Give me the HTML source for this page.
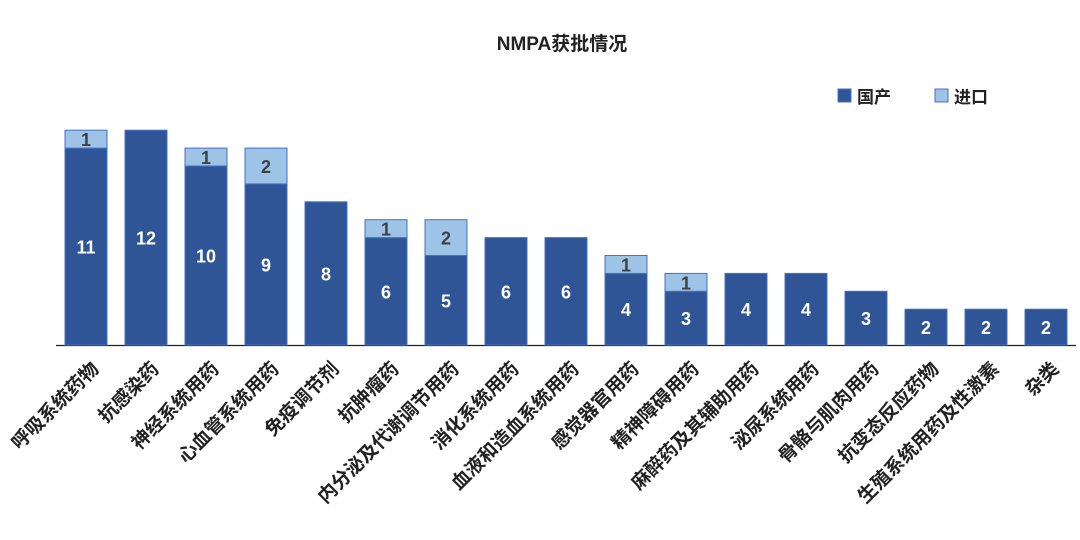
<!DOCTYPE html>
<html><head><meta charset="utf-8">
<style>
body{margin:0;background:#fff;width:1080px;height:535px;overflow:hidden;font-family:"Liberation Sans","Noto Sans CJK SC",sans-serif;}
</style></head>
<body>
<svg id="chart" width="1080" height="535" xmlns="http://www.w3.org/2000/svg" font-family="Liberation Sans, Noto Sans CJK SC, sans-serif">
<text x="562" y="50" text-anchor="middle" font-size="19" font-weight="bold" fill="#222">NMPA获批情况</text>
<g>
<rect x="838" y="89" width="13" height="13" fill="#2f5597" stroke="#4472c4"/>
<text x="857" y="103" font-size="17" font-weight="bold" fill="#222">国产</text>
<rect x="935" y="89" width="13" height="13" fill="#9dc3e6" stroke="#4472c4"/>
<text x="954" y="103" font-size="17" font-weight="bold" fill="#222">进口</text>
</g>
<line x1="56" y1="345.5" x2="1076" y2="345.5" stroke="#222" stroke-width="1.2"/>
<g id="bars"></g>
<g id="labels"></g>
</svg>
<script>
const categories=["呼吸系统药物","抗感染药","神经系统用药","心血管系统用药","免疫调节剂","抗肿瘤药","内分泌及代谢调节用药","消化系统用药","血液和造血系统用药","感觉器官用药","精神障碍用药","麻醉药及其辅助用药","泌尿系统用药","骨骼与肌肉用药","抗变态反应药物","生殖系统用药及性激素","杂类"];
const domestic=[11,12,10,9,8,6,5,6,6,4,3,4,4,3,2,2,2];
const imported=[1,0,1,2,0,1,2,0,0,1,1,0,0,0,0,0,0];
const NS="http://www.w3.org/2000/svg";
const x0=56,step=60,base=345,unit=17.9,bw=42;
const xs=i=>x0+step*i+step/2;
const ys=v=>base-v*unit;
const gb=document.getElementById('bars'),gl=document.getElementById('labels');
function mk(tag,attrs,parent){const e=document.createElementNS(NS,tag);for(const k in attrs)e.setAttribute(k,attrs[k]);parent.appendChild(e);return e;}
categories.forEach((c,i)=>{
  const cx=xs(i);
  const d=domestic[i],m=imported[i];
  const r1=mk('rect',{x:cx-bw/2,y:ys(d),width:bw,height:d*unit,fill:'#2f5597',stroke:'#4472c4','stroke-width':1},gb);
  
  
  const t1=mk('text',{x:cx,y:ys(d/2)+7,'text-anchor':'middle','font-size':18,'font-weight':'bold',fill:'#fff'},gb);
  t1.textContent=d;
  
  
  if(m>0){
    const r2=mk('rect',{x:cx-bw/2,y:ys(d+m),width:bw,height:m*unit,fill:'#9dc3e6',stroke:'#4472c4','stroke-width':1},gb);
    
    
    const t2=mk('text',{x:cx,y:ys(d+m/2)+7,'text-anchor':'middle','font-size':18,'font-weight':'bold',fill:'#404040'},gb);
    t2.textContent=m;
    
    
  }
  const lt=mk('text',{x:0,y:0,'text-anchor':'end','font-size':19,'font-weight':'bold',fill:'#222',transform:`translate(${cx+14},${base+25}) rotate(-45)`},gl);
  lt.textContent=c;
  
  
});
</script>
</body></html>
